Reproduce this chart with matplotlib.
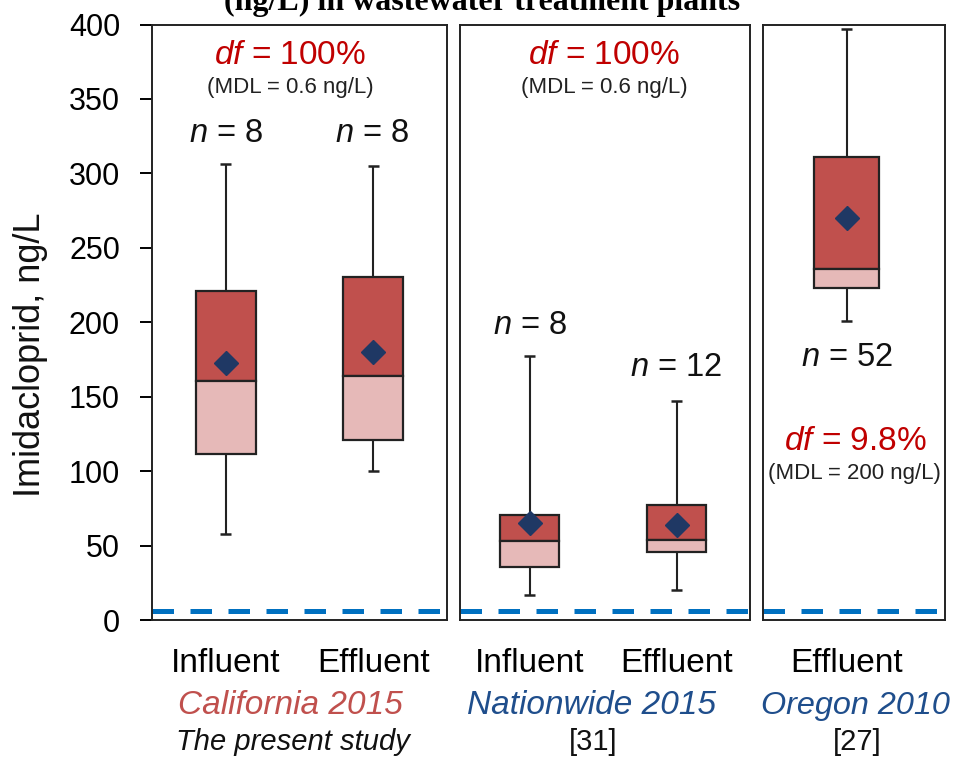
import matplotlib
matplotlib.use("Agg")
import matplotlib.pyplot as plt

plt.rcParams['font.family'] = ['Liberation Sans', 'DejaVu Sans']
plt.rcParams['mathtext.fontset'] = 'custom'
plt.rcParams['mathtext.rm'] = 'Liberation Sans'
plt.rcParams['mathtext.it'] = 'Liberation Sans:italic'

# ---------------- data ----------------
panel_of = [0, 0, 1, 1, 2]
box_labels = ['Influent', 'Effluent', 'Influent', 'Effluent', 'Effluent']
whis_hi = [306, 305, 177, 147, 397]
q3 = [221, 230.5, 70.5, 77, 311]
median = [160.5, 164, 53, 53.5, 235.5]
q1 = [111.5, 121, 35.5, 46, 223]
whis_lo = [58, 100, 17, 20, 201]
mean = [172.5, 180, 65, 64, 270]
n_samples = [8, 8, 8, 12, 52]
benchmark = 6

group_names = ['California 2015', 'Nationwide 2015', 'Oregon 2010']
group_refs = ['The present study', '[31]', '[27]']
df_text = ['100%', '100%', '9.8%']
mdl_text = ['(MDL = 0.6 ng/L)', '(MDL = 0.6 ng/L)', '(MDL = 200 ng/L)']
yticks = [0, 50, 100, 150, 200, 250, 300, 350, 400]
title = '(ng/L) in wastewater treatment plants'

# ---------------- layout ----------------
W, H = 955, 757
fig = plt.figure(figsize=(W / 100, H / 100), dpi=100)

top_px, bot_px = 24.5, 620
panels_px = [(152, 447), (459.5, 750), (762.5, 945)]
spans = [2.0, 2.0, 1.0]
pos_frac = [[0.25, 0.75], [0.242, 0.747], [0.462]]  # fraction of axis width
box_px = [60, 59, 65]
cap_px = 11

dark = '#c0504d'
light = '#e6b9b8'
navy = '#1f3864'
blue = '#0070c0'
red_txt = '#c00000'
group_cols = ['#c0504d', '#1f4e8c', '#1f4e8c']

axes = []
for i, (x0, x1) in enumerate(panels_px):
    ax = fig.add_axes([x0 / W, 1 - bot_px / H, (x1 - x0) / W, (bot_px - top_px) / H])
    ax.set_xlim(0, spans[i])
    ax.set_ylim(0, 400)
    for s in ax.spines.values():
        s.set_linewidth(1.4)
        s.set_color('#222222')
    axes.append(ax)

for k in range(len(median)):
    p = panel_of[k]
    ax = axes[p]
    idx = [j for j in range(len(panel_of)) if panel_of[j] == p].index(k)
    x = pos_frac[p][idx] * spans[p]
    ax_w = panels_px[p][1] - panels_px[p][0]
    bw = box_px[p] / ax_w * spans[p]
    cw = cap_px / ax_w * spans[p]
    # whiskers
    ax.vlines(x, q3[k], whis_hi[k], color='#222222', lw=1.5, zorder=2)
    ax.vlines(x, whis_lo[k], q1[k], color='#222222', lw=1.5, zorder=2)
    ax.hlines([whis_hi[k], whis_lo[k]], x - cw / 2, x + cw / 2, color='#222222', lw=1.8, zorder=2)
    # box halves
    ax.bar(x, q3[k] - median[k], bottom=median[k], width=bw, color=dark,
           edgecolor='#222222', linewidth=1.6, zorder=3)
    ax.bar(x, median[k] - q1[k], bottom=q1[k], width=bw, color=light,
           edgecolor='#222222', linewidth=1.6, zorder=3)
    ax.plot([x], [mean[k]], marker='D', ms=12, color=navy, zorder=4)

for i, ax in enumerate(axes):
    ax.axhline(benchmark, color=blue, lw=3.6, linestyle=(0, (4.3, 3.3)), zorder=1)
    xs = [pos_frac[i][j] * spans[i] for j in range(len(pos_frac[i]))]
    labs = [box_labels[j] for j in range(len(panel_of)) if panel_of[j] == i]
    ax.set_xticks(xs)
    ax.set_xticklabels(labs, fontsize=24)
    ax.tick_params(axis='x', length=0, pad=20)
    if i == 0:
        ax.set_yticks(yticks)
        ax.set_yticklabels([str(v) for v in yticks], fontsize=22)
        ax.tick_params(axis='y', direction='out', length=9, width=1.4, pad=14)
    else:
        ax.set_yticks([])

def ftext(xp, yp, s, **kw):
    fig.text(xp / W, 1 - yp / H, s, ha='center', va='center', **kw)

# df / MDL annotations
ftext(290, 56, r'$\mathit{df}$ = ' + df_text[0], fontsize=24, color=red_txt)
ftext(290, 88, mdl_text[0], fontsize=16, color='#222222')
ftext(604, 56, r'$\mathit{df}$ = ' + df_text[1], fontsize=24, color=red_txt)
ftext(604, 88, mdl_text[1], fontsize=16, color='#222222')
ftext(855, 442, r'$\mathit{df}$ = ' + df_text[2], fontsize=24, color=red_txt)
ftext(854, 474, mdl_text[2], fontsize=16, color='#222222')

# n labels
n_pos = [(226, 133), (372, 133), (530, 325), (676, 367), (847, 358)]
for k, (xp, yp) in enumerate(n_pos):
    ftext(xp, yp, r'$\mathit{n}$ = %d' % n_samples[k], fontsize=23.5, color='#111111')

# group labels
grp_x = [290, 592, 855]
grp_fs = [24, 24, 23.3]
for i in range(3):
    ftext(grp_x[i], 706, group_names[i], fontsize=grp_fs[i], style='italic', color=group_cols[i])
ftext(293, 742, group_refs[0], fontsize=21, style='italic', color='#111111')
ftext(593, 742, group_refs[1], fontsize=21, color='#111111')
ftext(857, 742, group_refs[2], fontsize=21, color='#111111')

# y label
ftext(30, 355, 'Imidacloprid, ng/L', fontsize=26, rotation=90, color='#111111')

# clipped title (cut off at the top edge, as in the reference)
fig.text(482 / W, 1 - 10 / H, title, ha='center', va='baseline', fontsize=23,
         fontweight='bold', family=['Liberation Serif', 'DejaVu Serif'])

fig.savefig('out.png', dpi=100)
